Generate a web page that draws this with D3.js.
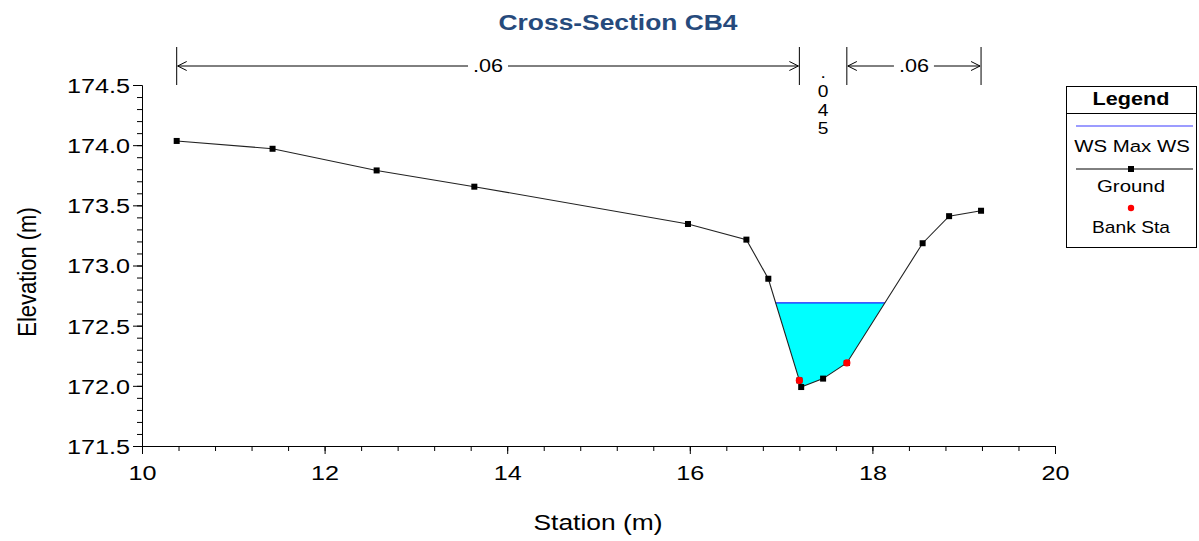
<!DOCTYPE html>
<html><head><meta charset="utf-8">
<script src="https://cdn.jsdelivr.net/npm/d3@7"></script>
<style>body{margin:0;background:#fff} svg{display:block} text{font-family:"Liberation Sans",Arial,sans-serif}</style>
</head><body><svg id="c" width="1199" height="541"></svg>
<script>
// ---- data ----
const groundStation = [10.38, 11.43, 12.57, 13.64, 15.98, 16.62, 16.86, 17.20, 17.22, 17.46, 17.72, 18.55, 18.84, 19.19];
const groundElev    = [174.035, 173.97, 173.79, 173.655, 173.345, 173.215, 172.89, 172.045, 171.99, 172.06, 172.19, 173.185, 173.41, 173.455];
const bankStation = [17.20, 17.72];
const bankElev    = [172.045, 172.19];
const wsElev = 172.69;
const nBreaks = [10.38, 17.20, 17.72, 19.19];
const nValues = [".06", ".045", ".06"];
const xTickValues = [10, 12, 14, 16, 18, 20];
const yTickValues = [171.5, 172.0, 172.5, 173.0, 173.5, 174.0, 174.5];
const legendLabels = ["WS Max WS", "Ground", "Bank Sta"];
const titleText = "Cross-Section CB4";
const xLabel = "Station (m)";
const yLabel = "Elevation (m)";

// ---- setup ----
const SX = 1.2; // horizontal stretch of glyphs in the reference
const svg = d3.select("#c");
const x = d3.scaleLinear().domain([10, 20]).range([142, 1055]);
const y = d3.scaleLinear().domain([171.5, 174.5]).range([446, 85]);

function txt(px, py, s, o = {}) {
  return svg.append("text")
    .attr("transform", `translate(${px},${py}) scale(${SX},1)` + (o.rot ? ` rotate(${o.rot})` : ""))
    .attr("text-anchor", o.anchor || "middle")
    .attr("dominant-baseline", "central")
    .style("font-size", (o.size || 20) + "px")
    .style("font-weight", o.weight || "normal")
    .attr("fill", o.fill || "#000")
    .text(s);
}

// title
txt(618, 22, titleText, {size: 22, weight: "bold", fill: "#264a7c"});

// ---- water ----
const ground = groundStation.map((s, i) => ({s, e: groundElev[i]}));
let iMin = d3.minIndex(ground, d => d.e);
let li = iMin; while (li > 0 && ground[li - 1].e < wsElev) li--;
let ri = iMin; while (ri < ground.length - 1 && ground[ri + 1].e < wsElev) ri++;
function interp(a, b) { const t = (wsElev - a.e) / (b.e - a.e); return a.s + t * (b.s - a.s); }
const leftS = interp(ground[li], ground[li - 1]);
const rightS = interp(ground[ri], ground[ri + 1]);
const poly = [{s: leftS, e: wsElev}, ...ground.slice(li, ri + 1), {s: rightS, e: wsElev}];
svg.append("path")
  .attr("d", d3.line().x(d => x(d.s)).y(d => y(d.e))(poly) + "Z")
  .attr("fill", "#00ffff").attr("stroke", "none");
svg.append("line")
  .attr("x1", x(leftS)).attr("x2", x(rightS)).attr("y1", y(wsElev)).attr("y2", y(wsElev))
  .attr("stroke", "#1f1fff").attr("stroke-width", 1.2);

// ---- ground ----
svg.append("path")
  .attr("d", d3.line().x(d => x(d.s)).y(d => y(d.e))(ground))
  .attr("fill", "none").attr("stroke", "#222").attr("stroke-width", 1.1);
svg.selectAll(".gpt").data(ground).join("rect")
  .attr("x", d => x(d.s) - 3).attr("y", d => y(d.e) - 3)
  .attr("width", 6).attr("height", 6).attr("fill", "#000");
svg.selectAll(".bpt").data(bankStation).join("circle")
  .attr("cx", d => x(d)).attr("cy", (d, i) => y(bankElev[i]))
  .attr("r", 3.6).attr("fill", "#ff0000");

// ---- axes ----
const gy = svg.append("g").attr("transform", `translate(${x(10)},0)`);
gy.call(d3.axisLeft(y).tickValues(d3.range(171.5, 174.5001, 0.1)).tickSize(5).tickSizeOuter(0).tickFormat(""));
gy.append("g").call(d3.axisLeft(y).tickValues(yTickValues).tickSize(9).tickSizeOuter(0).tickFormat(d3.format(".1f")));
gy.selectAll("path.domain").attr("stroke", "#000");
gy.selectAll("line").attr("stroke", "#000");
gy.selectAll("text").attr("x", -12 / SX).attr("dy", "0.35em")
  .attr("transform", `scale(${SX},1)`).style("font-size", "21px").attr("fill", "#000");

const gx = svg.append("g").attr("transform", `translate(0,${y(171.5)})`);
gx.call(d3.axisBottom(x).tickValues(d3.range(10, 20.001, 0.4)).tickSize(5).tickSizeOuter(0).tickFormat(""));
gx.append("g").call(d3.axisBottom(x).tickValues(xTickValues).tickSize(8).tickSizeOuter(0).tickFormat(d3.format("d")));
gx.selectAll("line").attr("stroke", "#000");
gx.selectAll("path.domain").attr("stroke", "#000");
gx.selectAll("text").attr("y", 19).style("font-size", "21px").attr("fill", "#000")
  .attr("transform", `scale(${SX},1)`);

txt(598, 522, xLabel, {size: 22});
txt(27, 272, yLabel, {size: 22, rot: -90});

// ---- Manning's n annotation ----
const nTop = 47, nBot = 85, nY = 66;
nBreaks.forEach(s => {
  svg.append("line").attr("x1", x(s)).attr("x2", x(s)).attr("y1", nTop).attr("y2", nBot)
    .attr("stroke", "#000").attr("stroke-width", 1);
});
function arrowHead(px, dir) {
  svg.append("path")
    .attr("d", `M${px + dir * 9},${nY - 4.5}L${px},${nY}L${px + dir * 9},${nY + 4.5}`)
    .attr("fill", "none").attr("stroke", "#000").attr("stroke-width", 1);
}
nValues.forEach((v, i) => {
  const a = x(nBreaks[i]) + 1, b = x(nBreaks[i + 1]) - 1;
  const w = b - a;
  const mid = (a + b) / 2;
  if (w > 60) {
    const half = 20;
    svg.append("line").attr("x1", a).attr("x2", mid - half).attr("y1", nY).attr("y2", nY).attr("stroke", "#000");
    svg.append("line").attr("x1", mid + half).attr("x2", b).attr("y1", nY).attr("y2", nY).attr("stroke", "#000");
    arrowHead(a, 1); arrowHead(b, -1);
    txt(mid, nY, v, {size: 18});
  } else {
    v.split("").forEach((ch, k) => {
      txt(mid, 73 + k * 18.6, ch, {size: 16});
    });
  }
});

// ---- legend ----
const L = {x0: 1066, x1: 1196, y0: 86, y1: 247};
const lc = (L.x0 + L.x1) / 2;
svg.append("rect").attr("x", L.x0 + 0.5).attr("y", L.y0 + 0.5)
  .attr("width", L.x1 - L.x0).attr("height", L.y1 - L.y0)
  .attr("fill", "#fff").attr("stroke", "#000");
svg.append("line").attr("x1", L.x0).attr("x2", L.x1).attr("y1", 113.5).attr("y2", 113.5).attr("stroke", "#000");
txt(lc, 99, "Legend", {size: 18, weight: "bold"});
svg.append("line").attr("x1", 1076).attr("x2", 1193).attr("y1", 126).attr("y2", 126).attr("stroke", "#3a3aff").attr("stroke-width", 1.2);
txt(lc + 1, 146, legendLabels[0], {size: 17});
svg.append("line").attr("x1", 1076).attr("x2", 1193).attr("y1", 169).attr("y2", 169).attr("stroke", "#000");
svg.append("rect").attr("x", lc - 3).attr("y", 166).attr("width", 6).attr("height", 6).attr("fill", "#000");
txt(lc, 186, legendLabels[1], {size: 17});
svg.append("circle").attr("cx", lc).attr("cy", 208).attr("r", 3.2).attr("fill", "#ff0000");
txt(lc, 228, legendLabels[2], {size: 16});
</script>
</body></html>
